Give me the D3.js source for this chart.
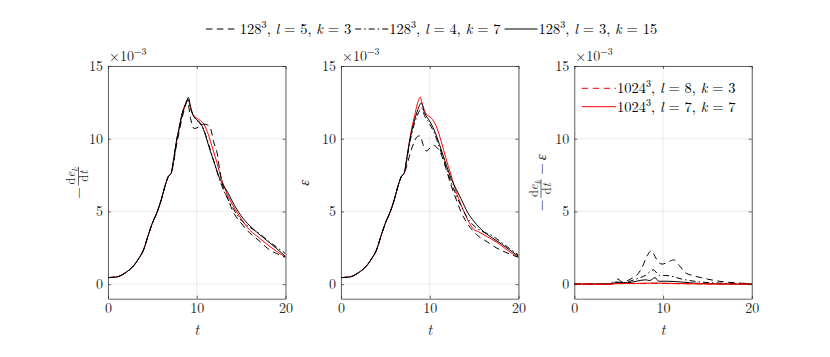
<!DOCTYPE html>
<meta charset="utf-8">
<style>
  body { margin: 0; background: #fff; }
  svg text { font-family: "Latin Modern Roman", "CMU Serif", "Liberation Serif", serif; }
</style>

<svg width="830" height="357"></svg>

<script src="https://d3js.org/d3.v7.min.js"></script>
<script>
  // tick labels
  var xTicks = [0, 10, 20]
  var yTicks = [0, 5, 10, 15]

  // common early growth, all runs overlap (t, value x 1e-3)
  var rise = [[0, 0.45], [1, 0.5], [2, 0.8], [3, 1.35], [3.5, 1.8], [4, 2.35], [4.5, 3.3],
    [5, 4.2], [5.5, 4.9], [6, 5.8], [6.5, 6.9], [6.8, 7.4], [7.1, 7.6]]

  // panel 1: -de_k/dt
  var dek_l5k3 = rise.concat([[7.4, 8.4], [7.7, 9.5], [8, 10.4], [8.3, 11.3], [8.6, 12.0], [8.95, 12.6],
    [9.3, 11.4], [9.7, 10.7], [10.2, 10.8], [10.8, 11.0], [11.2, 10.95], [11.5, 10.8], [11.9, 9.8],
    [12.3, 9.0], [12.6, 7.8], [13, 6.6], [13.5, 5.9], [14, 5.1], [15, 4.2], [16, 3.5], [17, 3.0],
    [18, 2.45], [19, 2.1], [20, 1.85]])
  var dek_l4k7 = rise.concat([[7.4, 8.6], [7.7, 9.8], [8, 10.7], [8.3, 11.6], [8.6, 12.2], [9.0, 12.7],
    [9.4, 11.9], [9.8, 11.4], [10.3, 11.1], [10.8, 10.6], [11.3, 9.7], [11.8, 8.7], [12.3, 7.7],
    [12.8, 6.8], [13.3, 6.1], [14, 5.3], [15, 4.4], [16, 3.9], [17, 3.5], [18, 3.0], [19, 2.55], [20, 2.1]])
  var dek_l3k15 = rise.concat([[7.4, 8.6], [7.7, 9.8], [8, 10.7], [8.3, 11.6], [8.6, 12.2], [8.9, 12.6],
    [9.05, 12.85], [9.3, 12.2], [9.6, 11.6], [10, 11.3], [10.5, 11.0], [11, 10.2], [11.5, 9.2], [12, 8.3],
    [12.5, 7.4], [13, 6.8], [13.5, 6.3], [14, 5.7], [15, 4.7], [16, 4.0], [17, 3.45], [18, 2.95],
    [19, 2.45], [20, 1.9]])
  var dek_1024 = rise.concat([[7.4, 8.5], [7.7, 9.7], [8, 10.6], [8.3, 11.5], [8.6, 12.1], [9.0, 12.7],
    [9.4, 11.9], [9.8, 11.5], [10.3, 11.3], [10.8, 11.0], [11.3, 10.3], [11.8, 9.3], [12.3, 8.3],
    [12.8, 7.2], [13.5, 6.1], [14, 5.5], [15, 4.5], [16, 3.7], [17, 3.2], [18, 2.7], [19, 2.25], [20, 1.85]])

  // panel 2: epsilon
  var eps_l5k3 = rise.concat([[7.4, 8.1], [7.8, 9.0], [8.2, 9.7], [8.6, 10.15], [8.9, 10.2], [9.3, 9.5],
    [9.65, 9.15], [10, 9.35], [10.4, 9.55], [10.8, 9.4], [11.3, 8.9], [11.8, 8.0], [12.4, 6.8], [13, 5.8],
    [13.5, 5.0], [14, 4.4], [15.3, 3.4], [16.5, 2.9], [17.5, 2.5], [18.5, 2.2], [19.3, 2.0], [20, 1.85]])
  var eps_l4k7 = rise.concat([[7.4, 8.5], [7.7, 9.6], [8, 10.4], [8.3, 11.1], [8.6, 11.6], [9.1, 12.1],
    [9.4, 11.6], [10, 11.0], [10.5, 10.4], [11.1, 9.4], [11.7, 8.3], [12.4, 7.0], [13, 6.1], [13.5, 5.4],
    [14.3, 4.5], [15, 4.0], [16, 3.6], [17, 3.35], [18, 2.9], [19, 2.45], [20, 2.0]])
  var eps_l3k15 = rise.concat([[7.4, 8.6], [7.7, 9.7], [8, 10.6], [8.3, 11.3], [8.6, 11.9], [9.05, 12.45],
    [9.4, 11.8], [10, 11.2], [10.5, 10.6], [11.1, 9.6], [11.7, 8.5], [12.45, 7.2], [13, 6.5], [13.5, 5.9],
    [14.3, 4.9], [15, 4.3], [16.2, 3.55], [17, 3.2], [18.1, 2.75], [19, 2.35], [20, 1.92]])
  var eps_1024 = rise.concat([[7.4, 8.6], [7.7, 9.8], [8, 10.8], [8.3, 11.6], [8.6, 12.4], [8.93, 12.85],
    [9.2, 12.3], [9.6, 11.7], [10.2, 11.4], [10.7, 10.9], [11.3, 9.8], [11.8, 8.7], [12.4, 7.5], [13, 6.3],
    [13.5, 5.5], [14, 4.8], [14.9, 3.8], [15.5, 3.6], [16.5, 3.25], [17.5, 2.9], [18.5, 2.45],
    [19.3, 2.1], [20, 1.85]])

  // panel 3: -de_k/dt - epsilon
  var diff_l5k3 = [[0, 0], [4, 0.02], [4.5, 0.2], [4.9, 0.35], [5.4, 0.15], [6, 0.25], [6.5, 0.4], [7, 0.6],
    [7.6, 1.1], [8.2, 1.95], [8.7, 2.3], [9.1, 1.9], [9.5, 1.5], [9.9, 1.38], [10.5, 1.5], [11.2, 1.67],
    [11.8, 1.3], [12.5, 0.8], [13.3, 0.6], [14.2, 0.46], [15, 0.35], [16, 0.23], [17, 0.15], [18, 0.1],
    [19, 0.06], [20, 0.04]]
  var diff_l4k7 = [[0, 0], [4, 0.02], [4.7, 0.15], [5.5, 0.1], [6.5, 0.25], [7.2, 0.4], [8, 0.6], [8.9, 0.98],
    [9.6, 0.6], [10.3, 0.6], [10.9, 0.55], [12.1, 0.35], [13, 0.25], [14.2, 0.15], [16, 0.08], [18, 0.04],
    [20, 0.02]]
  var diff_l3k15 = [[0, 0], [4, 0.02], [5, 0.12], [6, 0.1], [7, 0.2], [8, 0.3], [8.5, 0.25], [9.1, 0.45],
    [9.5, 0.2], [10.5, 0.2], [12, 0.15], [14, 0.05], [16, 0.02], [20, 0]]
  var diff_1024a = [[0, 0], [4, 0], [5, 0.03], [9, 0.05], [12, 0.03], [20, 0]]
  var diff_1024b = [[0, 0], [4, 0], [5, 0.05], [7, 0.05], [9, 0.08], [11, 0.05], [14, 0.02], [20, 0]]

  var styles = {
    dash: { color: '#000', dash: '6.5,4.5' },
    dashdot: { color: '#000', dash: '6,3,1.5,3' },
    solid: { color: '#000', dash: null },
    redDash: { color: '#f00', dash: '6.5,4.5' },
    red: { color: '#f00', dash: null }
  }

  // red first so black sits on top where they overlap
  var panels = [
    { left: 108, series: [[dek_1024, 'red'], [dek_l5k3, 'dash'], [dek_l4k7, 'dashdot'], [dek_l3k15, 'solid']] },
    { left: 341, series: [[eps_1024, 'red'], [eps_l5k3, 'dash'], [eps_l4k7, 'dashdot'], [eps_l3k15, 'solid']] },
    { left: 574.3, series: [[diff_l5k3, 'dash'], [diff_l4k7, 'dashdot'], [diff_l3k15, 'solid'],
      [diff_1024a, 'redDash'], [diff_1024b, 'red']] }
  ]

  var panelW = 177.5
  var plotTop = 66
  var plotBottom = 298.7
  var axisColor = '#262626'
  var tickFont = 14
  var legendFont = 14.5

  var svg = d3.select('svg')

  // tspans for simple math: '' roman, 'i' italic, 'sup', 'sub'
  function mathText(sel, parts, size) {
    var shift = 0
    parts.forEach(function (p) {
      var ts = sel.append('tspan').text(p[0])
      var target = 0
      if (p[1] === 'i') ts.attr('font-style', 'italic')
      if (p[1] === 'sup') { target = -size * 0.42; ts.attr('font-size', size * 0.7) }
      if (p[1] === 'sub') { target = size * 0.25; ts.attr('font-size', size * 0.7).attr('font-style', 'italic') }
      if (target !== shift) ts.attr('dy', target - shift)
      shift = target
    })
  }

  var line = d3.line().curve(d3.curveMonotoneX)

  panels.forEach(function (p, i) {
    var x = d3.scaleLinear().domain([0, 20]).range([0, panelW])
    var y = d3.scaleLinear().domain([-1, 15]).range([plotBottom, plotTop])
    var g = svg.append('g').attr('transform', 'translate(' + p.left + ',0)')

    // grid
    g.append('g').selectAll('line').data(xTicks).enter().append('line')
      .attr('x1', d => x(d)).attr('x2', d => x(d))
      .attr('y1', plotTop).attr('y2', plotBottom)
      .attr('stroke', '#e3e3e3').attr('stroke-width', 0.7)
    g.append('g').selectAll('line').data(yTicks).enter().append('line')
      .attr('x1', 0).attr('x2', panelW)
      .attr('y1', d => y(d)).attr('y2', d => y(d))
      .attr('stroke', '#e3e3e3').attr('stroke-width', 0.7)

    g.append('clipPath').attr('id', 'clip' + i)
      .append('rect').attr('x', 0).attr('y', plotTop).attr('width', panelW).attr('height', plotBottom - plotTop)

    line.x(d => x(d[0])).y(d => y(d[1]))
    g.append('g').attr('clip-path', 'url(#clip' + i + ')')
      .selectAll('path').data(p.series).enter().append('path')
      .attr('d', d => line(d[0]))
      .attr('fill', 'none')
      .attr('stroke', d => styles[d[1]].color)
      .attr('stroke-width', 1)
      .attr('stroke-dasharray', d => styles[d[1]].dash)

    // axes, ticks pointing inwards like MATLAB
    var axes = [
      g.append('g').attr('transform', 'translate(0,' + plotBottom + ')')
        .call(d3.axisBottom(x).tickValues(xTicks).tickSizeInner(-3).tickSizeOuter(0).tickPadding(4)),
      g.append('g')
        .call(d3.axisLeft(y).tickValues(yTicks).tickSizeInner(-3).tickSizeOuter(0).tickPadding(5)),
      g.append('g').attr('transform', 'translate(0,' + plotTop + ')')
        .call(d3.axisTop(x).tickValues(xTicks).tickSizeInner(-3).tickSizeOuter(0).tickFormat('')),
      g.append('g').attr('transform', 'translate(' + panelW + ',0)')
        .call(d3.axisRight(y).tickValues(yTicks).tickSizeInner(-3).tickSizeOuter(0).tickFormat(''))
    ]
    axes.forEach(function (a) {
      a.attr('font-family', null).attr('font-size', tickFont)
      a.select('.domain').attr('stroke', axisColor).attr('stroke-width', 0.7)
      a.selectAll('.tick line').attr('stroke', axisColor).attr('stroke-width', 0.7)
      a.selectAll('.tick text').attr('fill', axisColor)
    })

    // exponent
    var ex = g.append('text').attr('x', 1).attr('y', 61).attr('font-size', tickFont).attr('fill', axisColor)
    mathText(ex, [['\u00d710', ''], ['\u22123', 'sup']], tickFont)

    // x label
    g.append('text').attr('x', panelW / 2).attr('y', 335).attr('text-anchor', 'middle')
      .attr('font-size', 15).attr('font-style', 'italic').attr('fill', axisColor).text('t')
  })

  // rotated y labels
  function yLabel(cx, cy, items) {
    var g = svg.append('g').attr('transform', 'translate(' + cx + ',' + cy + ') rotate(-90)')
    var inner = g.append('g')
    var pos = 0
    items.forEach(function (it) {
      if (it === 'frac') {
        var num = inner.append('text').attr('font-size', 12.5).attr('text-anchor', 'middle').attr('fill', axisColor)
        mathText(num, [['d', ''], ['e', 'i'], ['k', 'sub']], 12.5)
        var den = inner.append('text').attr('font-size', 12.5).attr('text-anchor', 'middle').attr('fill', axisColor)
        mathText(den, [['d', ''], ['t', 'i']], 12.5)
        var w = Math.max(num.node().getComputedTextLength(), den.node().getComputedTextLength()) + 2
        num.attr('x', pos + w / 2).attr('y', -3.5)
        den.attr('x', pos + w / 2).attr('y', 9.5)
        inner.append('line').attr('x1', pos).attr('x2', pos + w).attr('y1', 0).attr('y2', 0)
          .attr('stroke', axisColor).attr('stroke-width', 0.7)
        pos += w + 1.5
      } else {
        var t = inner.append('text').attr('x', pos).attr('y', 4.5).attr('font-size', 15).attr('fill', axisColor)
        mathText(t, it, 15)
        pos += t.node().getComputedTextLength() + 1.5
      }
    })
    inner.attr('transform', 'translate(' + (-pos / 2) + ',0)')
  }
  yLabel(78.5, 182, [[['\u2212', '']], 'frac'])
  yLabel(304, 182, [[['\u03b5', 'i']]])
  yLabel(541, 182, [[['\u2212', '']], 'frac', [['\u2009\u2212\u2009', ''], ['\u03b5', 'i']]])

  // legends
  var topLegend = [
    ['dash', [['128', ''], ['3', 'sup'], [', ', ''], ['l', 'i'], [' = 5, ', ''], ['k', 'i'], [' = 3', '']]],
    ['dashdot', [['128', ''], ['3', 'sup'], [', ', ''], ['l', 'i'], [' = 4, ', ''], ['k', 'i'], [' = 7', '']]],
    ['solid', [['128', ''], ['3', 'sup'], [', ', ''], ['l', 'i'], [' = 3, ', ''], ['k', 'i'], [' = 15', '']]]
  ]
  var panelLegend = [
    ['redDash', [['1024', ''], ['3', 'sup'], [', ', ''], ['l', 'i'], [' = 8, ', ''], ['k', 'i'], [' = 3', '']]],
    ['red', [['1024', ''], ['3', 'sup'], [', ', ''], ['l', 'i'], [' = 7, ', ''], ['k', 'i'], [' = 7', '']]]
  ]

  var lg = svg.append('g')
  var lx = 0
  topLegend.forEach(function (d) {
    lg.append('line').attr('x1', lx).attr('x2', lx + 33).attr('y1', 29).attr('y2', 29)
      .attr('stroke', styles[d[0]].color).attr('stroke-width', 1).attr('stroke-dasharray', styles[d[0]].dash)
    var t = lg.append('text').attr('x', lx + 34).attr('y', 34).attr('font-size', legendFont).attr('fill', '#000')
    mathText(t, d[1], legendFont)
    lx += 34 + t.node().getComputedTextLength() + 4
  })
  lg.attr('transform', 'translate(' + (431.5 - (lx - 4) / 2) + ',0)')

  panelLegend.forEach(function (d, i) {
    var ly = 88.3 + i * 18.4
    svg.append('line').attr('x1', 581.7).attr('x2', 616).attr('y1', ly).attr('y2', ly)
      .attr('stroke', styles[d[0]].color).attr('stroke-width', 1).attr('stroke-dasharray', styles[d[0]].dash)
    var t = svg.append('text').attr('x', 617).attr('y', ly + 5).attr('font-size', legendFont).attr('fill', '#000')
    mathText(t, d[1], legendFont)
  })
</script>
